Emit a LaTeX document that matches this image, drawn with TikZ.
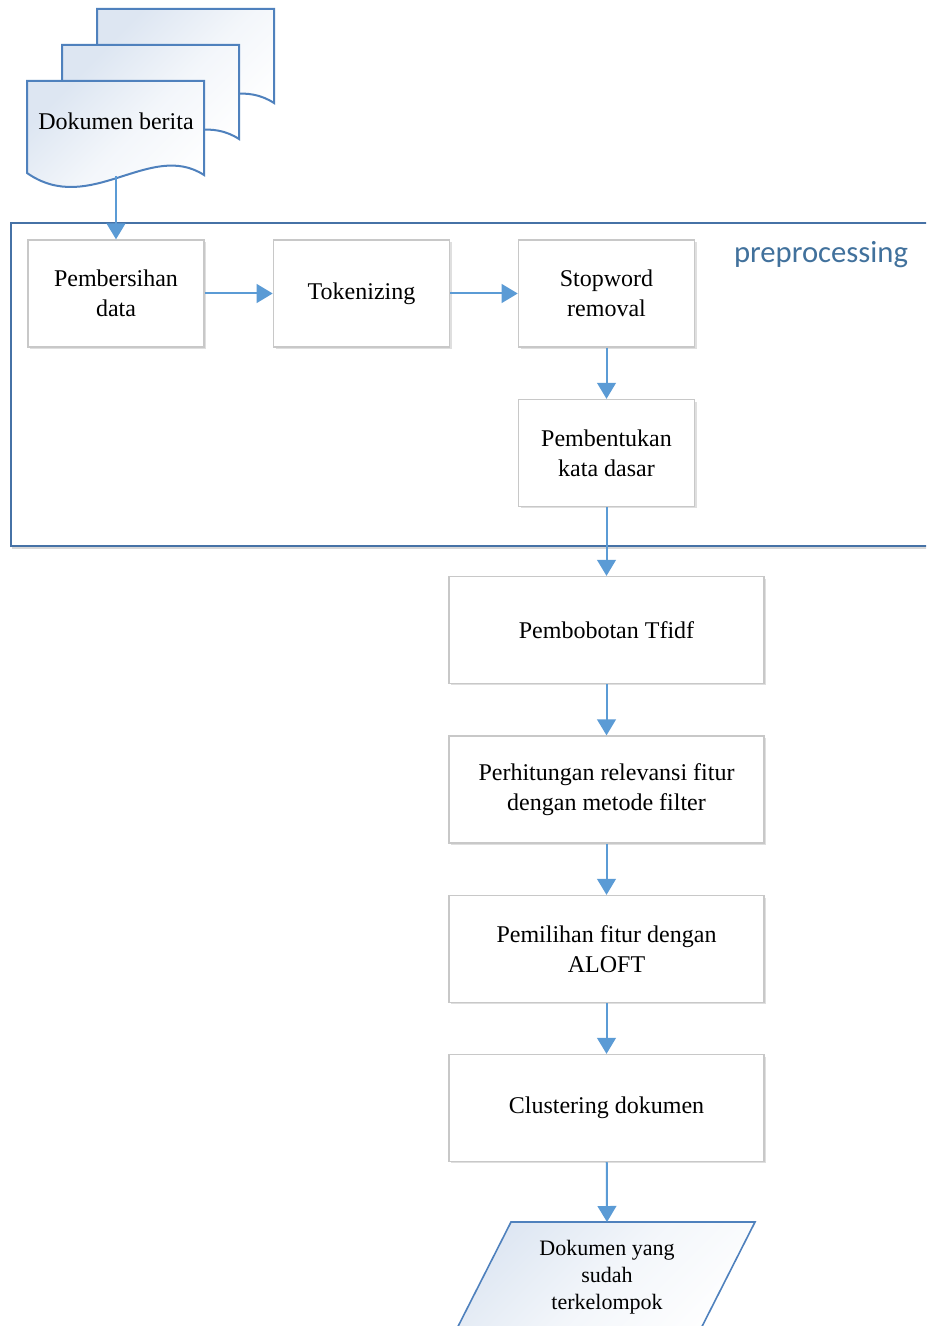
\documentclass[tikz,border=0pt]{standalone}
\usepackage{fontspec}
\setmainfont{Liberation Serif}
\newfontfamily\labelfont{Carlito}
\usetikzlibrary{arrows.meta,shadows}
\definecolor{flowblue}{HTML}{5B9BD5}
\definecolor{framecol}{HTML}{4672A6}
\definecolor{boxedge}{HTML}{C8C8C8}
\definecolor{docedge}{HTML}{4F81BD}
\definecolor{docfill}{HTML}{DDE6F2}
\definecolor{labelcol}{HTML}{41719C}
\tikzset{
  stepbox/.style={draw=boxedge, line width=1.2pt, fill=white,
    minimum width=132pt, minimum height=80pt, align=center,
    font=\fontsize{18}{22.5}\selectfont,
    drop shadow={opacity=0.25, shadow xshift=1.5pt, shadow yshift=-1.5pt}},
  widebox/.style={stepbox, minimum width=236pt},
  flow/.style={draw=flowblue, line width=1.5pt, -{Triangle[length=12pt,width=14pt]}},
  docpage/.style={draw=docedge, line width=1.5pt, top color=docfill,
    bottom color=white, middle color=docfill!35, shading angle=45},
}
% one news page with a wavy lower edge, top-left corner at the origin
\newcommand\newspage{%
  \path[docpage] (0,0) -- (177,0) -- (177,94)
    .. controls (123,59) and (63,136) .. (0,92) -- cycle;}
\begin{document}
\begin{tikzpicture}[x=0.75pt,y=-0.75pt]
\clip (0,0) rectangle (926,1326);
\fill[white] (0,0) rectangle (926,1326);

% stack of input documents
\begin{scope}[shift={(97,9)}]\newspage\end{scope}
\begin{scope}[shift={(62,45)}]\newspage\end{scope}
\begin{scope}[shift={(27,81)}]\newspage\end{scope}
\node[font=\fontsize{18}{22.5}\selectfont] (doc) at (116,121) {Dokumen berita};
\coordinate (docout) at (116,176);

% preprocessing frame
\draw[black!25, line width=2pt, opacity=0.6] (12,548) -- (940,548);
\node[draw=framecol, line width=1.5pt, minimum width=697.5pt, minimum height=242.25pt,
      anchor=north west] (frame) at (10,222) {};
\node[font=\labelfont\fontsize{23}{26}\selectfont, text=labelcol] (pre) at (821,255) {preprocessing};

% processing steps
\node[stepbox] (clean) at (116,293.5) {Pembersihan\\data};
\node[stepbox] (token) at (361.5,293.5) {Tokenizing};
\node[stepbox] (stop)  at (606.5,293.5) {Stopword\\removal};
\node[stepbox] (stem)  at (606.5,453) {Pembentukan\\kata dasar};
\node[widebox] (tfidf) at (606.5,630) {Pembobotan Tfidf};
\node[widebox] (relev) at (606.5,789.5) {Perhitungan relevansi fitur\\dengan metode filter};
\node[widebox] (aloft) at (606.5,949) {Pemilihan fitur dengan\\ALOFT};
\node[widebox] (clust) at (606.5,1108) {Clustering dokumen};

% output documents
\path[docpage, line width=1.2pt] (511,1222) -- (755,1222) -- (686,1358) -- (442,1358) -- cycle;
\coordinate (outtop) at (607,1222);
\node[align=center, font=\fontsize{16.5}{20.25}\selectfont] (result) at (607,1277)
  {Dokumen yang\\sudah\\terkelompok};

% connectors
\draw[flow] (docout) -- (clean);
\draw[flow] (clean) -- (token);
\draw[flow] (token) -- (stop);
\draw[flow] (stop) -- (stem);
\draw[flow] (stem) -- (tfidf);
\draw[flow] (tfidf) -- (relev);
\draw[flow] (relev) -- (aloft);
\draw[flow] (aloft) -- (clust);
\draw[flow] (clust) -- (outtop);
\end{tikzpicture}
\end{document}
